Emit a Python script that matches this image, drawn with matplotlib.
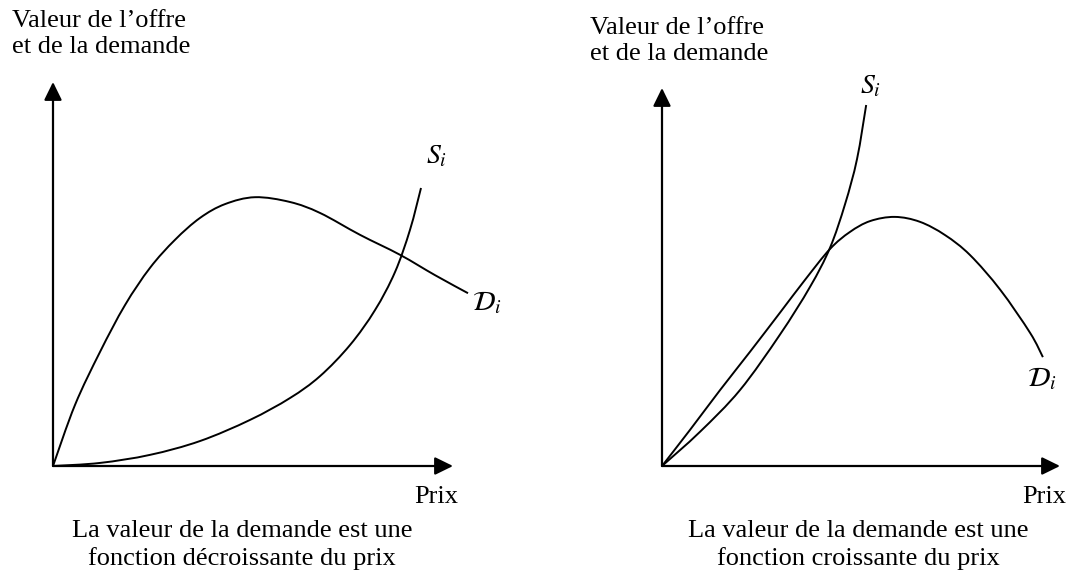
import matplotlib
matplotlib.use("Agg")
import matplotlib.pyplot as plt
from matplotlib.path import Path
from matplotlib.patches import PathPatch

plt.rcParams['font.family'] = ['Liberation Serif', 'DejaVu Serif']
plt.rcParams['mathtext.fontset'] = 'stix'

# left chart: demand value falls with price after a peak
left_s_x = [0, 11.75, 24.25, 36.75, 49.25, 59.25, 66.75, 74.25, 80.5, 85.5, 89.25, 92]
left_s_y = [0, 0.8, 2.9, 6.5, 12, 17.7, 23.4, 31.5, 40.6, 50.5, 61.5, 72.4]
left_d_x = [0, 5.5, 11.75, 18, 24.25, 30.5, 36.75, 43, 50.5, 59.25, 66.75, 76.75, 86.75, 95.5, 103.75]
left_d_y = [0, 15.9, 29.7, 41.9, 51.6, 58.9, 64.6, 68.2, 70, 68.75, 65.9, 60.2, 55, 49.7, 45]

# right chart
right_s_x = [0, 9.5, 19.6, 29.6, 37.2, 42.2, 46, 49, 51.3]
right_s_y = [0, 9, 20.1, 34.7, 47.4, 57.7, 69.3, 81.2, 95.5]
right_d_x = [0, 7.0, 14.6, 22.1, 29.6, 35.9, 42.2, 47.2, 52.3, 58.5, 64.8, 71.1, 77.4, 85.0, 92.5, 95.7]
right_d_y = [0, 9.5, 20.1, 30.2, 40.5, 49.2, 57.4, 61.9, 64.8, 65.9, 64.6, 61.1, 55.8, 46.6, 35.2, 28.8]

ylabel = "Valeur de l\u2019offre\net de la demande"
xlabel = "Prix"
captions = ["La valeur de la demande est une\nfonction d\u00e9croissante du prix",
            "La valeur de la demande est une\nfonction croissante du prix"]

W, H = 1078, 586
fig = plt.figure(figsize=(W / 100, H / 100), dpi=100)

# background axes in pixel units for the text
bg = fig.add_axes([0, 0, 1, 1])
bg.set_xlim(0, W)
bg.set_ylim(H, 0)
bg.axis('off')

fs = 19
bg.text(12, 10, ylabel, fontsize=fs, va='top', ha='left', linespacing=1.25)
bg.text(590, 17, ylabel, fontsize=fs, va='top', ha='left', linespacing=1.25)
bg.text(414, 503, xlabel, fontsize=fs, va='baseline', ha='left')
bg.text(1022, 503, xlabel, fontsize=fs, va='baseline', ha='left')
bg.text(242, 545, captions[0], fontsize=fs, va='center', ha='center', linespacing=1.3)
bg.text(858, 545, captions[1], fontsize=fs, va='center', ha='center', linespacing=1.3)


def smooth_path(xs, ys):
    # Catmull-Rom through the read points, drawn as cubic Bezier segments
    pts = list(zip(xs, ys))
    verts = [pts[0]]
    codes = [Path.MOVETO]
    n = len(pts)
    for i in range(n - 1):
        p0 = pts[i - 1] if i > 0 else pts[i]
        p1 = pts[i]
        p2 = pts[i + 1]
        p3 = pts[i + 2] if i + 2 < n else pts[i + 1]
        c1 = (p1[0] + (p2[0] - p0[0]) / 6, p1[1] + (p2[1] - p0[1]) / 6)
        c2 = (p2[0] - (p3[0] - p1[0]) / 6, p2[1] - (p3[1] - p1[1]) / 6)
        verts += [c1, c2, p2]
        codes += [Path.CURVE4] * 3
    return Path(verts, codes)


def chart(rect, sx, sy, dx, dy, s_lab, d_lab):
    ax = fig.add_axes(rect)
    ax.set_xlim(0, 100)
    ax.set_ylim(0, 100)
    ax.axis('off')
    arrow = dict(arrowstyle='-|>,head_length=0.55,head_width=0.27', mutation_scale=20,
                 lw=1.6, color='black', shrinkA=0, shrinkB=0)
    ax.annotate('', xy=(100, 0), xytext=(0, 0), arrowprops=arrow, annotation_clip=False)
    ax.annotate('', xy=(0, 100), xytext=(0, 0), arrowprops=arrow, annotation_clip=False)
    for xs, ys in [(sx, sy), (dx, dy)]:
        ax.add_patch(PathPatch(smooth_path(xs, ys), facecolor='none', edgecolor='black',
                               lw=1.4, clip_on=False))
    ax.text(s_lab[0], s_lab[1], r'$S_i$', fontsize=20, ha='center', va='center')
    ax.text(d_lab[0], d_lab[1], r'$\mathcal{D}_i$', fontsize=20, ha='center', va='center')
    return ax


chart([53 / W, 120 / H, 400 / W, 384 / H], left_s_x, left_s_y, left_d_x, left_d_y,
      (96, 80.5), (108.5, 42.5))
chart([662 / W, 120 / H, 398 / W, 378 / H], right_s_x, right_s_y, right_d_x, right_d_y,
      (52.5, 100.5), (95.5, 23))

fig.savefig('out.png', dpi=100)
